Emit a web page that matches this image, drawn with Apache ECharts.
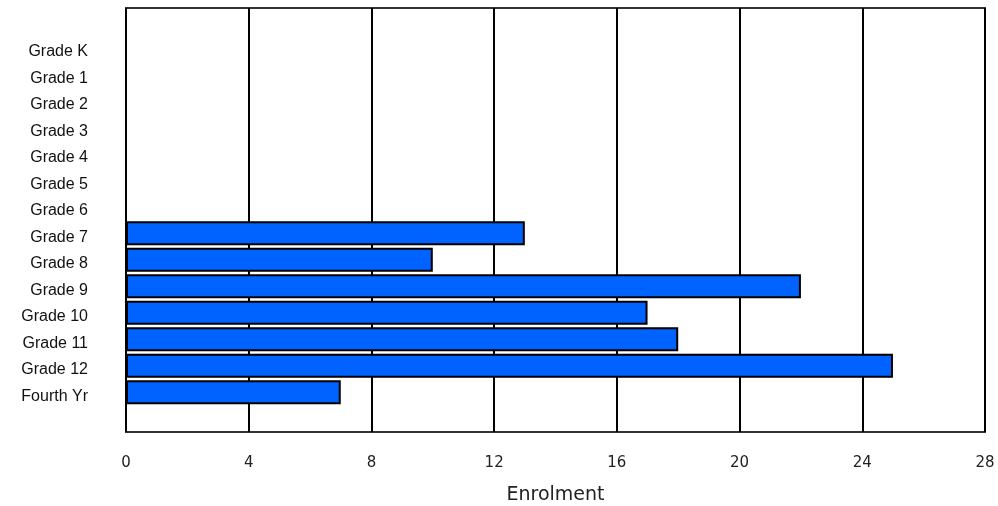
<!DOCTYPE html>
<html><head><meta charset="utf-8">
<script src="https://cdn.jsdelivr.net/npm/echarts@6/dist/echarts.min.js"></script>
<style>html,body{margin:0;padding:0;background:#fff}#c{width:998px;height:506px}</style>
</head><body><div id="c"></div>
<script>
const categories = ["", "Grade K", "Grade 1", "Grade 2", "Grade 3", "Grade 4", "Grade 5", "Grade 6", "Grade 7", "Grade 8", "Grade 9", "Grade 10", "Grade 11", "Grade 12", "Fourth Yr", ""];
const enrolment = [null, null, null, null, null, null, null, null, 13, 10, 22, 17, 18, 25, 7, null];
const xTicks = [0, 4, 8, 12, 16, 20, 24, 28];

const chart = echarts.init(document.getElementById('c'), null, {renderer: 'canvas'});
chart.setOption({
  animation: false,
  grid: {left: 126, right: 13, top: 8, bottom: 74, containLabel: false, outerBoundsMode: 'none', show: true, borderColor: '#333', borderWidth: 2, backgroundColor: '#fff'},
  xAxis: {
    type: 'value', min: xTicks[0], max: xTicks[xTicks.length - 1], interval: 4,
    name: 'Enrolment', nameLocation: 'middle', nameGap: 54,
    nameTextStyle: {fontFamily: 'DejaVu Sans', fontSize: 19, color: '#222'},
    axisLine: {show: false}, axisTick: {show: false},
    axisLabel: {fontFamily: 'DejaVu Sans', fontSize: 15, color: '#222', margin: 24},
    splitLine: {show: true, lineStyle: {color: '#000', width: 2}}
  },
  yAxis: {
    type: 'category', data: categories, inverse: true,
    axisLine: {show: false}, axisTick: {show: false},
    axisLabel: {fontFamily: 'Liberation Sans, Arial', fontSize: 16, color: '#111', margin: 38, verticalAlign: 'top', lineHeight: 8},
    splitLine: {show: false}
  },
  series: [{
    type: 'bar', data: enrolment, barWidth: 24,
    itemStyle: {color: '#0062FF', borderColor: '#000', borderWidth: 2}
  }]
});
</script></body></html>
